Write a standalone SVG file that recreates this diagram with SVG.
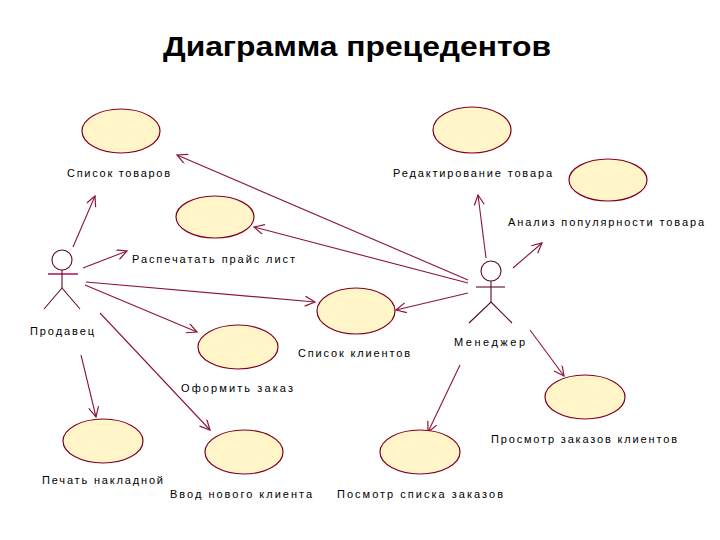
<svg xmlns="http://www.w3.org/2000/svg" width="720" height="540" viewBox="0 0 720 540">
<style>
.uc{fill:#FFF5C8;stroke:#800020;stroke-width:1.2}
.lbl{font-family:"Liberation Sans",Arial,sans-serif;font-size:11px;fill:#000}
.act{fill:none;stroke:#5a0a2a;stroke-width:1.1}
.arm{stroke:#b02060;stroke-width:1.6}
.con line{stroke:#8B1538;stroke-width:1.1;marker-end:url(#arr)}
</style>
<defs>
<marker id="arr" markerUnits="userSpaceOnUse" markerWidth="12" markerHeight="12" refX="11" refY="5" orient="auto">
<path d="M1,0 L11,5 L1,10" fill="none" stroke="#8B1538" stroke-width="1.2"/>
</marker>
</defs>
<rect width="720" height="540" fill="#fff"/>
<text x="357" y="56" text-anchor="middle" font-family="Liberation Sans,Arial,sans-serif" font-weight="bold" font-size="27" textLength="388" lengthAdjust="spacingAndGlyphs">Диаграмма прецедентов</text>

<g class="con">
<line x1="73" y1="247" x2="95" y2="196"/>
<line x1="83" y1="268" x2="127" y2="251"/>
<line x1="86" y1="282" x2="315" y2="302"/>
<line x1="85" y1="285" x2="197" y2="332"/>
<line x1="81" y1="355" x2="96" y2="417"/>
<line x1="100" y1="313" x2="210" y2="430"/>
<line x1="468" y1="280" x2="177" y2="155"/>
<line x1="468" y1="283" x2="254" y2="227"/>
<line x1="468" y1="293" x2="396" y2="310"/>
<line x1="486" y1="258" x2="478" y2="195"/>
<line x1="513" y1="268" x2="542" y2="243"/>
<line x1="530" y1="330" x2="564" y2="376"/>
<line x1="460" y1="365" x2="428" y2="432"/>
</g>

<g id="actor-prodavec">
<circle class="act" cx="62" cy="260" r="10"/>
<line class="act arm" x1="48" y1="274" x2="78" y2="274"/>
<line class="act" x1="62" y1="270" x2="62" y2="288"/>
<polyline class="act" points="44,309 62,288 80,309"/>
<text class="lbl" x="30" y="335" textLength="64" lengthAdjust="spacing">Продавец</text>
</g>
<g id="actor-menedzher">
<circle class="act" cx="491" cy="271" r="10"/>
<line class="act" x1="476" y1="287" x2="505" y2="287"/>
<line class="act" x1="491" y1="281" x2="491" y2="302"/>
<polyline class="act" points="469,323 491,302 512,323"/>
<text class="lbl" x="454" y="346" textLength="71" lengthAdjust="spacing">Менеджер</text>
</g>

<g id="uc-spisok-tovarov">
<ellipse class="uc" cx="121" cy="131" rx="39" ry="22"/>
<text class="lbl" x="67" y="177" textLength="103" lengthAdjust="spacing">Список товаров</text>
</g>
<g id="uc-praice">
<ellipse class="uc" cx="215" cy="217" rx="39" ry="21"/>
<text class="lbl" x="132" y="263" textLength="163" lengthAdjust="spacing">Распечатать прайс лист</text>
</g>
<g id="uc-redakt">
<ellipse class="uc" cx="472" cy="130" rx="39" ry="23"/>
<text class="lbl" x="393" y="177" textLength="159" lengthAdjust="spacing">Редактирование товара</text>
</g>
<g id="uc-analiz">
<ellipse class="uc" cx="608" cy="180" rx="39" ry="21"/>
<text class="lbl" x="508" y="226" textLength="196" lengthAdjust="spacing">Анализ популярности товара</text>
</g>
<g id="uc-spisok-klientov">
<ellipse class="uc" cx="356" cy="311" rx="39" ry="23"/>
<text class="lbl" x="298" y="357" textLength="112" lengthAdjust="spacing">Список клиентов</text>
</g>
<g id="uc-oformit">
<ellipse class="uc" cx="238" cy="347" rx="40" ry="22"/>
<text class="lbl" x="181" y="392" textLength="112" lengthAdjust="spacing">Оформить заказ</text>
</g>
<g id="uc-prosmotr">
<ellipse class="uc" cx="585" cy="397" rx="40" ry="22"/>
<text class="lbl" x="491" y="443" textLength="186" lengthAdjust="spacing">Просмотр заказов клиентов</text>
</g>
<g id="uc-pechat">
<ellipse class="uc" cx="103" cy="441" rx="40" ry="22"/>
<text class="lbl" x="42" y="484" textLength="121" lengthAdjust="spacing">Печать накладной</text>
</g>
<g id="uc-vvod">
<ellipse class="uc" cx="244" cy="452" rx="39" ry="22"/>
<text class="lbl" x="170" y="498" textLength="142" lengthAdjust="spacing">Ввод нового клиента</text>
</g>
<g id="uc-posmotr">
<ellipse class="uc" cx="420" cy="452" rx="40" ry="22"/>
<text class="lbl" x="337" y="498" textLength="166" lengthAdjust="spacing">Посмотр списка заказов</text>
</g>
</svg>
